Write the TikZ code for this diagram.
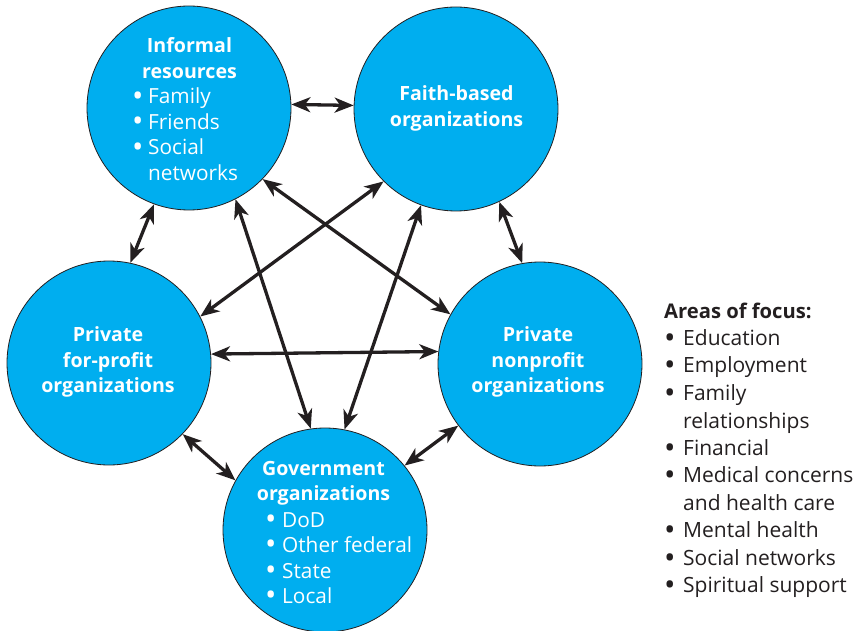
\documentclass[tikz,border=0pt]{standalone}
\usepackage{fontspec}
\setmainfont{Open Sans}
\usetikzlibrary{arrows.meta}
\definecolor{cyanfill}{HTML}{00AEEF}
\definecolor{inkline}{HTML}{231F20}
\newcommand{\bul}[1]{\makebox[#1][l]{\raisebox{-0.12em}{\scalebox{1.45}{•}}}}
\begin{document}
\begin{tikzpicture}[x=1pt,y=-1pt,
  org/.style={circle, fill=cyanfill, draw=inkline, line width=0.8pt, minimum size=204pt, inner sep=0pt},
  lbl/.style={text=white, font=\fontsize{20.8}{25.5}\selectfont, inner sep=0pt, anchor=base},
  ttl/.style={text=white, font=\fontsize{19.6}{25.5}\selectfont\bfseries, inner sep=0pt, anchor=base},
  link/.style={draw=inkline, line width=3.3pt, {Stealth[length=19pt,width=15pt,inset=5.5pt]}-{Stealth[length=19pt,width=15pt,inset=5.5pt]}}
]
\useasboundingbox (0,0) rectangle (857,631);

\node[org] (inf) at (189,108) {};
\node[org] (fai) at (456,109) {};
\node[org] (pfp) at (109,363) {};
\node[org] (pnp) at (540,364) {};
\node[org] (gov) at (325,530) {};

\node[ttl] (inft) at (189.5,53) {\begin{tabular}[t]{@{}c@{}}Informal\\resources\end{tabular}};
\node[lbl, anchor=base west] (infl) at (132,104) {\begin{tabular}[t]{@{}l@{}}\bul{16pt}Family\\\bul{16pt}Friends\\\bul{16pt}Social\\\hspace{16pt}networks\end{tabular}};

\node[ttl] (fait) at (456.5,101) {\begin{tabular}[t]{@{}c@{}}Faith-based\\organizations\end{tabular}};
\node[ttl] (pfpt) at (108,341.7) {\begin{tabular}[t]{@{}c@{}}Private\\for-profit\\organizations\end{tabular}};
\node[ttl] (pnpt) at (538,341.7) {\begin{tabular}[t]{@{}c@{}}Private\\nonprofit\\organizations\end{tabular}};

\node[ttl] (govt) at (323.5,475) {\begin{tabular}[t]{@{}c@{}}Government\\organizations\end{tabular}};
\node[lbl, anchor=base west] (govl) at (265,527) {\begin{tabular}[t]{@{}l@{}}\bul{17pt}DoD\\\bul{17pt}Other federal\\\bul{17pt}State\\\bul{17pt}Local\end{tabular}};

\node[anchor=base west, inner sep=0pt, text=inkline, font=\fontsize{21}{27.5}\selectfont] (focus) at (664,318) {\begin{tabular}[t]{@{}l@{}}{\fontsize{20.2}{27.5}\selectfont\bfseries Areas of focus:}\\
\bul{19pt}Education\\
\bul{19pt}Employment\\
\bul{19pt}Family\\
\hspace{19pt}relationships\\
\bul{19pt}Financial\\
\bul{19pt}Medical concerns\\
\hspace{19pt}and health care\\
\bul{19pt}Mental health\\
\bul{19pt}Social networks\\
\bul{19pt}Spiritual support\end{tabular}};

\draw[link] (inf.2) -- (fai.178);
\draw[link] (inf.-110) -- (pfp.78);
\draw[link] (fai.-65) -- (pnp.100);
\draw[link] (pfp.-44) -- (gov.151);
\draw[link] (pnp.217) -- (gov.39);
\draw[link] (pfp.5.6) -- (pnp.173.8);
\draw[link] (inf.-44.6) -- (pnp.151.3);
\draw[link] (fai.225.4) -- (pfp.27.3);
\draw[link] (inf.-63.9) -- (gov.98);
\draw[link] (fai.-110) -- (gov.79.3);
\end{tikzpicture}
\end{document}
